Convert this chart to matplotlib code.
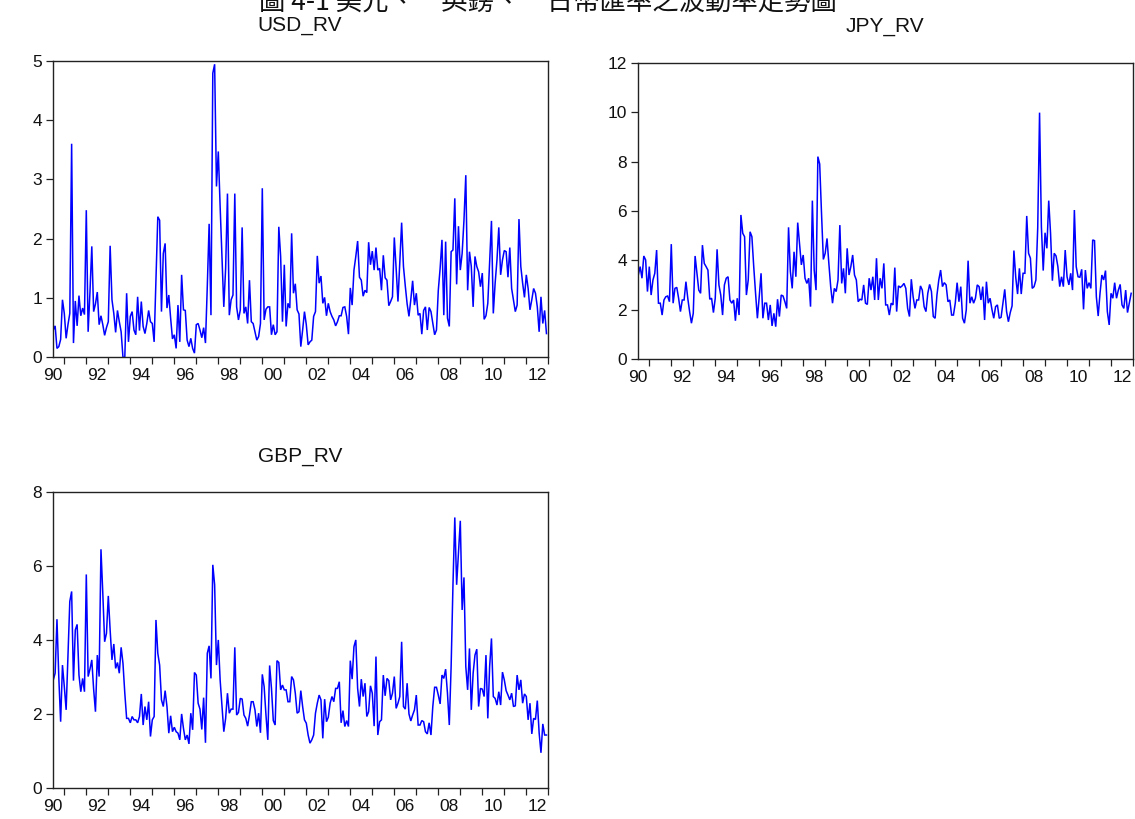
import numpy as np
import pandas as pd
import matplotlib
matplotlib.use("Agg")
import matplotlib.pyplot as plt
from matplotlib.ticker import FixedLocator, NullFormatter, FixedFormatter

plt.rcParams['font.family'] = ['Liberation Sans', 'Noto Sans CJK TC', 'DejaVu Sans']

# ---------------- data (monthly, 1990:07 - 2012:12) ----------------
start_month = "1990-07"
n_obs = 270

usd_rv = [
    0.46, 0.53, 0.15, 0.18, 0.30, 0.97, 0.74, 0.32, 0.55, 0.74,
    3.60, 0.24, 0.95, 0.53, 1.04, 0.70, 0.83, 0.72, 2.48, 0.43,
    1.10, 1.87, 0.77, 0.90, 1.10, 0.55, 0.70, 0.55, 0.37, 0.50,
    0.60, 1.88, 0.97, 0.74, 0.42, 0.79, 0.60, 0.43, 0.00, 0.00,
    1.08, 0.26, 0.69, 0.77, 0.46, 0.38, 1.02, 0.45, 0.94, 0.52,
    0.40, 0.57, 0.79, 0.60, 0.57, 0.26, 1.30, 2.37, 2.31, 0.77,
    1.75, 1.92, 0.83, 1.05, 0.66, 0.31, 0.38, 0.15, 0.88, 0.26,
    1.39, 0.80, 0.79, 0.29, 0.18, 0.32, 0.15, 0.07, 0.55, 0.57,
    0.46, 0.33, 0.50, 0.24, 1.20, 2.25, 0.71, 4.79, 4.94, 2.88,
    3.47, 2.54, 1.70, 0.85, 1.50, 2.76, 0.71, 0.97, 1.05, 2.76,
    0.85, 0.63, 0.80, 2.19, 0.74, 0.85, 0.57, 1.30, 0.60, 0.57,
    0.43, 0.29, 0.35, 0.57, 2.85, 0.63, 0.81, 0.85, 0.85, 0.38,
    0.55, 0.38, 0.43, 2.20, 1.70, 0.60, 1.56, 0.52, 0.91, 0.83,
    2.09, 1.08, 1.24, 0.80, 0.73, 0.18, 0.46, 0.77, 0.55, 0.21,
    0.26, 0.29, 0.69, 0.77, 1.71, 1.25, 1.37, 0.91, 1.01, 0.70,
    0.91, 0.77, 0.69, 0.63, 0.53, 0.60, 0.70, 0.70, 0.84, 0.85,
    0.69, 0.39, 1.17, 0.88, 1.47, 1.70, 1.96, 1.35, 1.30, 1.03,
    1.13, 1.09, 1.94, 1.56, 1.79, 1.47, 1.85, 1.47, 1.50, 1.13,
    1.72, 1.34, 1.30, 0.87, 0.94, 1.02, 2.02, 1.50, 0.94, 1.60,
    2.27, 1.53, 1.20, 0.90, 0.69, 0.97, 1.29, 0.88, 1.08, 0.71,
    0.74, 0.39, 0.79, 0.85, 0.46, 0.84, 0.77, 0.57, 0.38, 0.46,
    1.13, 1.50, 1.98, 0.71, 1.95, 0.66, 0.52, 1.78, 1.81, 2.68,
    1.23, 2.21, 1.47, 1.75, 2.31, 3.07, 1.13, 1.78, 1.53, 0.85,
    1.70, 1.53, 1.44, 1.19, 1.42, 0.64, 0.70, 0.91, 1.60, 2.30,
    0.74, 1.25, 1.64, 2.19, 1.39, 1.64, 1.80, 1.78, 1.35, 1.85,
    1.16, 0.96, 0.77, 0.88, 2.33, 1.53, 1.25, 1.01, 1.39, 1.16,
    0.80, 0.97, 1.16, 1.08, 0.85, 0.43, 1.02, 0.57, 0.79, 0.40,
]

jpy_rv = [
    3.41, 3.75, 3.28, 4.18, 4.02, 2.74, 3.75, 2.60, 3.21, 3.48,
    4.42, 2.27, 2.27, 1.79, 2.40, 2.53, 2.56, 2.33, 4.66, 2.27,
    2.87, 2.91, 2.47, 1.93, 2.40, 2.40, 3.14, 2.47, 1.93, 1.46,
    1.86, 4.18, 3.48, 2.80, 2.67, 4.62, 3.88, 3.75, 3.61, 2.43,
    2.47, 1.89, 2.47, 4.45, 3.01, 2.60, 1.79, 3.01, 3.28, 3.34,
    2.40, 2.27, 2.40, 1.56, 2.47, 1.79, 5.84, 5.10, 4.96, 2.60,
    3.21, 5.16, 4.96, 3.75, 2.67, 1.66, 2.53, 3.48, 1.66, 2.27,
    2.27, 1.59, 2.20, 1.35, 1.86, 1.32, 2.43, 1.73, 2.60, 2.56,
    2.33, 2.06, 5.34, 3.55, 2.87, 4.35, 3.34, 5.53, 4.69, 3.82,
    4.22, 3.28, 3.07, 3.28, 2.13, 6.42, 3.61, 2.80, 8.20, 7.90,
    5.90, 4.04, 4.29, 4.89, 3.88, 2.94, 2.27, 2.87, 2.74, 3.21,
    5.43, 3.07, 3.68, 2.67, 4.49, 3.41, 3.75, 4.22, 3.41, 3.21,
    2.33, 2.43, 2.40, 3.01, 2.27, 2.22, 3.28, 2.80, 3.34, 2.40,
    4.09, 2.40, 3.28, 2.87, 3.88, 2.20, 2.20, 1.79, 2.27, 2.20,
    3.71, 1.93, 2.97, 2.91, 2.97, 3.07, 2.87, 2.06, 1.73, 3.24,
    2.53, 2.06, 2.40, 2.40, 2.97, 2.80, 2.13, 1.93, 2.67, 3.03,
    2.74, 1.73, 1.66, 2.60, 3.21, 3.61, 2.94, 3.10, 3.01, 2.33,
    2.40, 1.79, 1.79, 2.27, 3.10, 2.33, 2.94, 1.66, 1.46, 2.00,
    3.99, 2.27, 2.53, 2.27, 2.47, 3.01, 2.94, 2.40, 2.94, 1.59,
    3.14, 2.27, 2.47, 2.02, 1.66, 2.13, 2.20, 1.66, 1.70, 2.27,
    2.83, 1.93, 1.52, 1.89, 2.16, 4.40, 3.32, 2.64, 3.68, 2.64,
    3.48, 3.48, 5.80, 4.29, 4.09, 2.87, 2.94, 3.21, 5.33, 9.98,
    5.37, 3.59, 5.12, 4.49, 6.42, 5.10, 3.18, 4.29, 4.18, 3.75,
    2.94, 3.34, 2.94, 4.42, 3.34, 3.01, 3.48, 2.80, 6.04, 3.75,
    3.34, 3.32, 3.64, 2.02, 3.61, 2.87, 3.10, 2.87, 4.83, 4.80,
    2.53, 1.75, 2.67, 3.41, 3.21, 3.59, 1.93, 1.39, 2.67, 2.47,
    3.10, 2.47, 2.80, 3.03, 2.20, 2.06, 2.80, 1.89, 2.27, 2.67,
]

gbp_rv = [
    2.93, 3.11, 4.57, 3.00, 1.80, 3.33, 2.75, 2.12, 3.56, 5.05,
    5.32, 2.91, 4.28, 4.43, 3.06, 2.61, 2.97, 2.61, 5.78, 3.02,
    3.22, 3.47, 2.68, 2.07, 3.60, 3.02, 6.46, 5.27, 3.96, 4.19,
    5.20, 4.28, 3.47, 3.90, 3.24, 3.40, 3.11, 3.81, 3.38, 2.57,
    1.89, 1.89, 1.77, 1.94, 1.85, 1.85, 1.77, 1.94, 2.55, 1.71,
    2.21, 1.85, 2.34, 1.40, 1.85, 1.94, 4.55, 3.65, 3.33, 2.39,
    2.21, 2.64, 2.21, 1.49, 1.96, 1.53, 1.65, 1.53, 1.49, 1.31,
    2.01, 1.62, 1.31, 1.44, 1.20, 2.03, 1.58, 3.13, 3.06, 2.30,
    2.14, 1.59, 2.45, 1.23, 3.65, 3.85, 2.97, 6.04, 5.50, 3.33,
    4.01, 2.93, 2.21, 1.53, 1.89, 2.57, 2.03, 2.14, 2.14, 3.81,
    1.98, 2.05, 2.43, 2.41, 1.98, 1.89, 1.68, 1.98, 2.34, 2.34,
    2.12, 1.67, 2.03, 1.50, 3.08, 2.75, 1.98, 1.31, 3.32, 2.70,
    1.83, 1.71, 3.45, 3.40, 2.66, 2.79, 2.66, 2.66, 2.34, 2.34,
    3.02, 2.93, 2.57, 2.03, 2.07, 2.64, 2.21, 1.85, 1.76, 1.44,
    1.22, 1.31, 1.44, 2.03, 2.30, 2.52, 2.39, 1.35, 2.41, 1.80,
    1.92, 2.30, 2.48, 2.34, 2.70, 2.70, 2.88, 1.77, 2.10, 1.67,
    1.83, 1.67, 3.45, 2.95, 3.83, 4.01, 2.70, 2.21, 2.95, 2.48,
    2.84, 1.94, 2.07, 2.77, 2.57, 1.68, 3.56, 1.44, 1.80, 1.85,
    3.06, 2.50, 2.97, 2.91, 2.39, 2.57, 3.02, 2.16, 2.30, 2.48,
    3.96, 2.21, 2.14, 2.84, 2.01, 1.82, 1.98, 2.12, 2.52, 1.71,
    1.71, 1.83, 1.80, 1.53, 1.47, 1.77, 1.44, 2.21, 2.73, 2.73,
    2.52, 2.28, 3.06, 2.97, 3.22, 2.57, 1.71, 3.30, 5.50, 7.32,
    5.50, 6.35, 7.23, 4.82, 5.70, 3.29, 2.66, 3.78, 2.12, 3.11,
    3.60, 3.76, 2.21, 2.70, 2.68, 2.48, 3.60, 1.89, 3.29, 4.05,
    2.48, 2.43, 2.25, 2.61, 2.25, 3.14, 2.93, 2.64, 2.52, 2.39,
    2.57, 2.21, 2.23, 3.06, 2.66, 2.93, 2.30, 2.55, 2.48, 1.85,
    2.30, 1.47, 1.89, 1.86, 2.37, 1.50, 0.96, 1.74, 1.44, 1.44,
]

series_names = ["USD_RV", "JPY_RV", "GBP_RV"]
y_max = [5, 12, 8]
y_step = [1, 2, 2]
year_tick_labels = ["90", "92", "94", "96", "98", "00", "02", "04", "06", "08", "10", "12"]
label_years = [1990, 1992, 1994, 1996, 1998, 2000, 2002, 2004, 2006, 2008, 2010, 2012]
fig_title = "圖 4-1 美元、　英鎊、　日幣匯率之波動率走勢圖"

# ---------------- figure ----------------
dates = pd.date_range(start_month, periods=n_obs, freq="MS")
xpos = np.asarray(dates.year + (dates.month - 1) / 12.0, dtype=float)

W, H = 1135, 819
fig = plt.figure(figsize=(W / 100, H / 100), dpi=100)
fig.patch.set_facecolor("white")

def add_panel(l, t, r, b):
    return fig.add_axes([l / W, 1 - b / H, (r - l) / W, (b - t) / H])

boxes = [(53.3, 60.7, 548.3, 357.3),
         (638.3, 62.7, 1133.0, 359.3),
         (53.3, 492.3, 548.3, 788.3)]
title_pos = [(300, 30.5), (885, 32.0), (300, 462.0)]
data = [usd_rv, jpy_rv, gbp_rv]

for k in range(3):
    ax = add_panel(*boxes[k])
    ax.plot(xpos, data[k], color="#0000ff", lw=1.1, solid_joinstyle="miter")
    ax.set_xlim(1990.5, 2013.0)
    ax.set_ylim(0, y_max[k])
    ax.set_yticks(np.arange(0, y_max[k] + 0.01, y_step[k]))
    ax.set_yticklabels([str(int(v)) for v in np.arange(0, y_max[k] + 0.01, y_step[k])])
    # year-start ticks, labels centred in the year interval
    ax.xaxis.set_major_locator(FixedLocator(list(range(1991, 2014))))
    ax.xaxis.set_major_formatter(NullFormatter())
    ax.xaxis.set_minor_locator(FixedLocator([y + 0.5 for y in label_years]))
    ax.xaxis.set_minor_formatter(FixedFormatter(year_tick_labels))
    ax.tick_params(axis="x", which="major", direction="out", length=4.8, width=0.9, color="#222222")
    ax.tick_params(axis="x", which="minor", length=0, pad=7.5, labelsize=12.5, labelcolor="#111111")
    ax.tick_params(axis="y", which="major", direction="out", length=5.0, width=0.9, pad=3.0,
                   labelsize=12.5, color="#222222", labelcolor="#111111")
    for s in ax.spines.values():
        s.set_linewidth(1.0)
        s.set_color("#222222")
    ax.set_facecolor("white")
    tx, ty = title_pos[k]
    fig.text(tx / W, 1 - ty / H, series_names[k], ha="center", va="baseline",
             fontsize=15, color="#111111")

fig.text(548 / W, 1 - 10.5 / H, fig_title, ha="center", va="baseline", fontsize=19,
         family=["Noto Sans CJK TC", "DejaVu Sans"], color="#111111")

fig.savefig("out.png", dpi=100, facecolor="white")
